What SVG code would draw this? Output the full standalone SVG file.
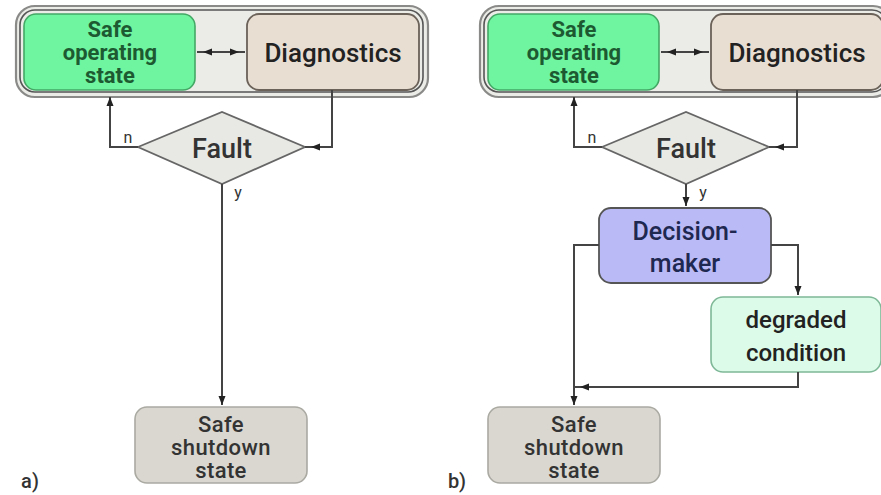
<svg xmlns="http://www.w3.org/2000/svg" width="881" height="495" viewBox="0 0 881 495">
<defs>
<style>
.t{font-family:Roboto,"Liberation Sans",sans-serif;text-anchor:middle;font-weight:500}
.b{font-weight:700;fill:#1d5a32;font-size:22px}
.sh{font-size:22px;fill:#333;letter-spacing:0.4px}
.ln{fill:none;stroke:#444;stroke-width:2}
.cont-o{fill:#ebebe8;stroke:#8a8a88;stroke-width:2.2}
.cont-i{fill:none;stroke:#555;stroke-width:1.6}
.sos{fill:#6ff5a0;stroke:#44a865;stroke-width:1.6}
.diag{fill:#e9ded2;stroke:#6b6259;stroke-width:1.8}
.fault{fill:#e8e8e4;stroke:#666;stroke-width:1.8}
.shut{fill:#d9d7d0;stroke:#aaa9a2;stroke-width:1.6}
.dm{fill:#babaf7;stroke:#555;stroke-width:1.8}
.deg{fill:#dcfbe8;stroke:#7fb898;stroke-width:1.6}
.small{font-family:Roboto,"Liberation Sans",sans-serif;font-size:16px;fill:#333;text-anchor:middle}
</style>
<marker id="ah" markerUnits="userSpaceOnUse" markerWidth="10" markerHeight="8" refX="9" refY="3.5" orient="auto-start-reverse" overflow="visible">
<path d="M0,0 L9,3.5 L0,7 z" fill="#222"/>
</marker>
<marker id="ahg" markerUnits="userSpaceOnUse" markerWidth="10" markerHeight="8" refX="15" refY="3.5" orient="auto-start-reverse" overflow="visible">
<path d="M0,0 L9,3.5 L0,7 z" fill="#222"/>
</marker>
</defs>

<!-- Panel a -->
<g id="a-container">
<rect class="cont-o" x="16" y="6" width="412" height="91" rx="19"/>
<rect class="cont-i" x="20" y="10" width="403" height="82" rx="15"/>
</g>
<g id="a-safe-operating">
<rect class="sos" x="24" y="14" width="171" height="76" rx="12"/>
<text class="t b" x="110" y="37">Safe</text>
<text class="t b" x="110" y="60">operating</text>
<text class="t b" x="110" y="83">state</text>
</g>
<g id="a-diagnostics">
<rect class="diag" x="247" y="14" width="172" height="76" rx="12"/>
<text class="t" x="333" y="62" font-size="26" fill="#222">Diagnostics</text>
</g>
<g id="a-fault">
<polygon class="fault" points="138,147 222,112 305,147 222,184"/>
<text class="t" x="222" y="158" font-size="27" fill="#333">Fault</text>
</g>
<g id="a-shutdown">
<rect class="shut" x="135" y="407" width="172" height="76" rx="12"/>
<text class="t sh" x="221" y="432">Safe</text>
<text class="t sh" x="221" y="455">shutdown</text>
<text class="t sh" x="221" y="478">state</text>
</g>
<text class="t" x="30" y="488" font-size="20" fill="#333">a)</text>

<!-- Panel b -->
<g id="b-container">
<rect class="cont-o" x="480" y="6" width="412" height="91" rx="19"/>
<rect class="cont-i" x="484" y="10" width="403" height="82" rx="15"/>
</g>
<g id="b-safe-operating">
<rect class="sos" x="488" y="14" width="171" height="76" rx="12"/>
<text class="t b" x="574" y="37">Safe</text>
<text class="t b" x="574" y="60">operating</text>
<text class="t b" x="574" y="83">state</text>
</g>
<g id="b-diagnostics">
<rect class="diag" x="711" y="14" width="172" height="76" rx="12"/>
<text class="t" x="797" y="62" font-size="26" fill="#222">Diagnostics</text>
</g>
<g id="b-fault">
<polygon class="fault" points="602,147 686,112 769,147 686,184"/>
<text class="t" x="686" y="158" font-size="27" fill="#333">Fault</text>
</g>
<g id="b-decision-maker">
<rect class="dm" x="599" y="208" width="172" height="75" rx="12"/>
<text class="t" x="685" y="240" font-size="25" fill="#1e2850">Decision-</text>
<text class="t" x="685" y="272" font-size="25" fill="#1e2850">maker</text>
</g>
<g id="b-degraded">
<rect class="deg" x="711" y="297" width="170" height="75" rx="12"/>
<text class="t" x="796" y="328" font-size="24" fill="#222">degraded</text>
<text class="t" x="796" y="361" font-size="24" fill="#222">condition</text>
</g>
<g id="b-shutdown">
<rect class="shut" x="488" y="407" width="172" height="76" rx="12"/>
<text class="t sh" x="574" y="432">Safe</text>
<text class="t sh" x="574" y="455">shutdown</text>
<text class="t sh" x="574" y="478">state</text>
</g>
<text class="t" x="457" y="488" font-size="20" fill="#333">b)</text>

<g id="connectors">
<path class="ln" d="M197,52 H245" marker-start="url(#ahg)" marker-end="url(#ahg)"/>
<path class="ln" d="M138,147 H110 V97" marker-end="url(#ah)"/>
<path class="ln" d="M332,90 V147 H305" marker-end="url(#ahg)"/>
<path class="ln" d="M222,184 V405" marker-end="url(#ah)"/>

<path class="ln" d="M661,52 H709" marker-start="url(#ahg)" marker-end="url(#ahg)"/>
<path class="ln" d="M602,147 H574 V97" marker-end="url(#ah)"/>
<path class="ln" d="M797,90 V147 H769" marker-end="url(#ahg)"/>
<path class="ln" d="M686,184 V206" marker-end="url(#ah)"/>
<path class="ln" d="M599,245 H574 V405" marker-end="url(#ah)"/>
<path class="ln" d="M771,245 H798 V295" marker-end="url(#ah)"/>
<path class="ln" d="M798,372 V387 H574" marker-end="url(#ahg)"/>
</g>
<g id="labels">
<text class="small" x="128" y="143">n</text>
<text class="small" x="238" y="198">y</text>
<text class="small" x="592" y="143">n</text>
<text class="small" x="703" y="198">y</text>
</g>
</svg>
